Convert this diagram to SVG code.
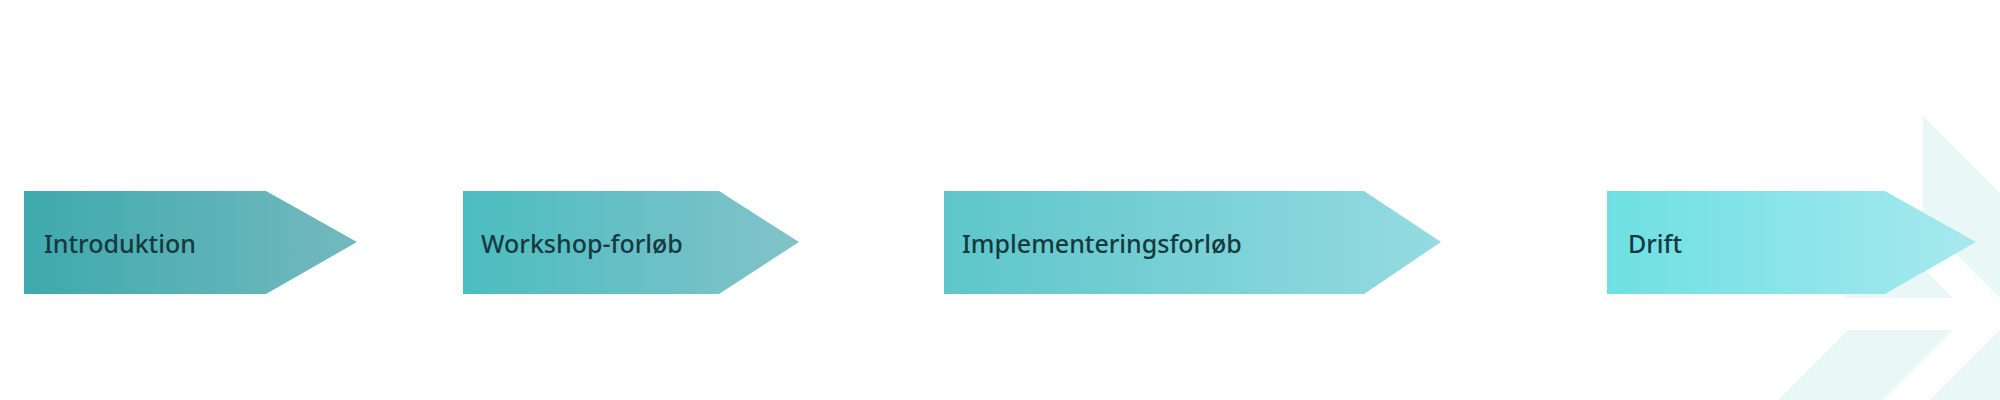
<svg xmlns="http://www.w3.org/2000/svg" width="2000" height="400" viewBox="0 0 2000 400">
  <style>
    .lbl { font-family: "Noto Sans", "Open Sans", sans-serif; font-size: 25px; font-weight: 500; fill: #143a40; }
    .wm { fill: #e9f7f7; }
  </style>
  <defs>
    <linearGradient id="g1" x1="0" y1="0" x2="1" y2="0">
      <stop offset="0" stop-color="#3eaaad"/>
      <stop offset="1" stop-color="#73b9be"/>
    </linearGradient>
    <linearGradient id="g2" x1="0" y1="0" x2="1" y2="0">
      <stop offset="0" stop-color="#4bbdc1"/>
      <stop offset="1" stop-color="#82c3c9"/>
    </linearGradient>
    <linearGradient id="g3" x1="0" y1="0" x2="1" y2="0">
      <stop offset="0" stop-color="#5ec6ca"/>
      <stop offset="1" stop-color="#94dbe1"/>
    </linearGradient>
    <linearGradient id="g4" x1="0" y1="0" x2="1" y2="0">
      <stop offset="0" stop-color="#6ee0e3"/>
      <stop offset="1" stop-color="#a7e9ee"/>
    </linearGradient>
  </defs>

  <g id="watermark">
    <polygon class="wm" points="1923,116 2000,193 2000,298 1923,221"/>
    <polygon class="wm" points="1846,298 1953,298 1905,250 1798,250"/>
    <polygon class="wm" points="1848,330 1953,330 1883,400 1778,400"/>
    <polygon class="wm" points="2000,330 2000,400 1930,400"/>
  </g>

  <g id="connectors"></g>

  <g id="introduktion">
    <polygon points="24,191 266,191 357,242 266,294 24,294" fill="url(#g1)"/>
    <text class="lbl" x="44" y="253">Introduktion</text>
  </g>
  <g id="workshop">
    <polygon points="463,191 719,191 799,242 719,294 463,294" fill="url(#g2)"/>
    <text class="lbl" x="481" y="253">Workshop-forløb</text>
  </g>
  <g id="implementering">
    <polygon points="944,191 1364,191 1441,242 1364,294 944,294" fill="url(#g3)"/>
    <text class="lbl" x="962" y="253">Implementeringsforløb</text>
  </g>
  <g id="drift">
    <polygon points="1607,191 1885,191 1976,242 1885,294 1607,294" fill="url(#g4)"/>
    <text class="lbl" x="1628" y="253">Drift</text>
  </g>
</svg>
